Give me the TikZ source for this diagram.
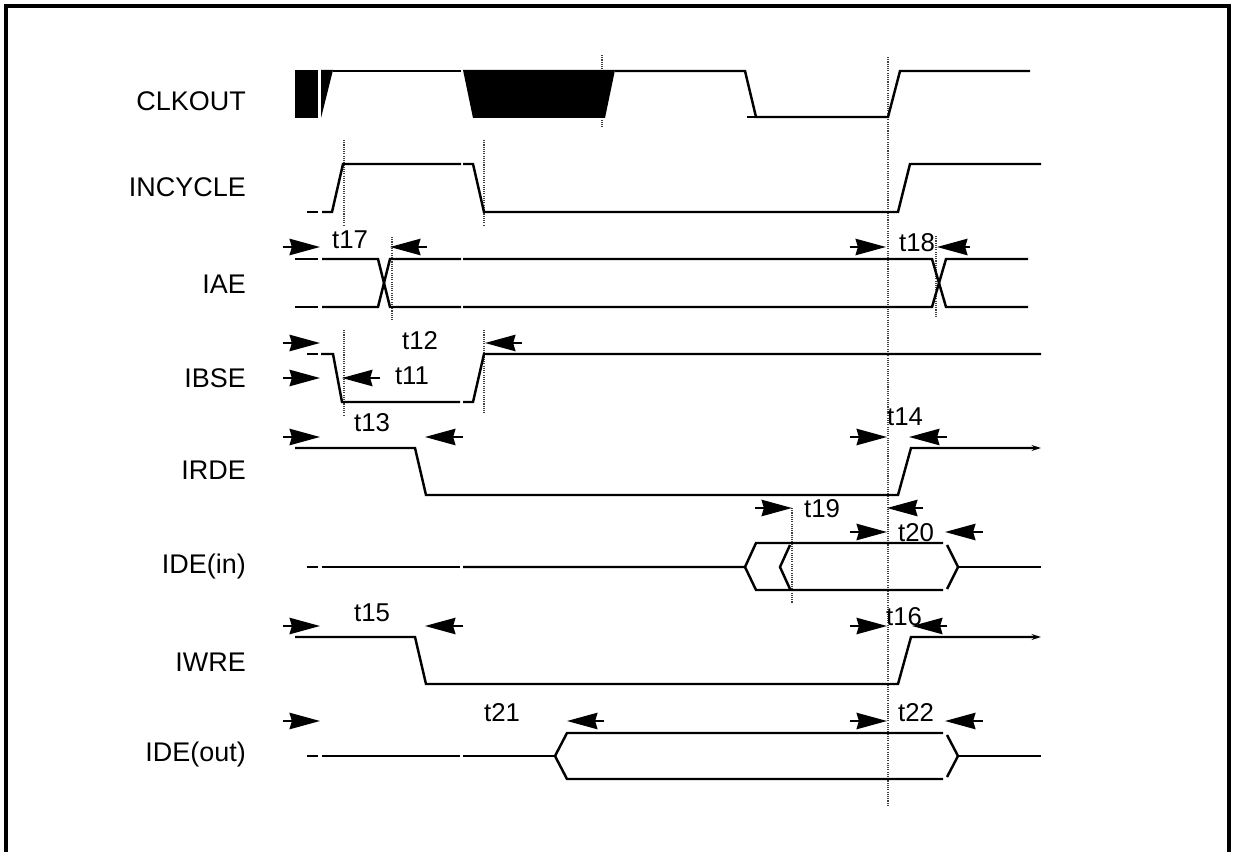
\documentclass[tikz,border=0pt]{standalone}
\usepackage{fontspec}
\setmainfont{Liberation Sans}
\usetikzlibrary{arrows.meta}
\begin{document}
\begin{tikzpicture}[x=0.03cm,y=-0.03cm,
  sig/.style={line width=2.1pt, line join=miter},
  sigend/.style={sig, -{Stealth[length=8pt,width=5pt]}},
  guide/.style={densely dotted, line width=0.9pt, black!75},
  dimr/.style={line width=1.7pt, -{Stealth[length=26pt,width=14pt,inset=2pt]}},
  signame/.style={anchor=east, inner sep=0pt, font=\fontsize{23}{27}\selectfont},
  tlab/.style={inner sep=0pt, font=\fontsize{22}{26}\selectfont},
  frameline/.style={line width=2.6pt}]
\useasboundingbox (0,0) rectangle (1234,852);
\draw[frameline] (6,852) -- (6,6) -- (1229,6) -- (1229,852);

% signal names
\node[signame] (nclk)  at (246,101) {CLKOUT};
\node[signame] (ninc)  at (246,187) {INCYCLE};
\node[signame] (niae)  at (246,284) {IAE};
\node[signame] (nibse) at (246,378) {IBSE};
\node[signame] (nirde) at (246,470) {IRDE};
\node[signame] (nidei) at (246,567) {IDE(in)};
\node[signame] (niwre) at (246,662) {IWRE};
\node[signame] (nideo) at (246,755) {IDE(out)};

% guide lines
\draw[guide] (602,55) -- (602,128);
\draw[guide] (888,57) -- (888,806);
\draw[guide] (344,140) -- (344,225);
\draw[guide] (484,140) -- (484,225);
\draw[guide] (392,237) -- (392,320);
\draw[guide] (936,236) -- (936,318);
\draw[guide] (344,330) -- (344,415);
\draw[guide] (484,330) -- (484,414);
\draw[guide] (792,508) -- (792,603);

% CLKOUT
\fill (295,70) rectangle (318,118);
\fill (321,70) -- (333,70) -- (321,118) -- cycle;
\draw[sig] (333,71) -- (461,71);
\fill (463,70) -- (615,70) -- (605,118) -- (473,118) -- cycle;
\draw[sig] (615,71) -- (745,71) -- (756,117) -- (888,117) -- (900,71) -- (1030,71);
\draw[sig] (747,117) -- (756,117);

% INCYCLE
\draw[sig] (307,212) -- (318,212);
\draw[sig] (322,212) -- (332,212) -- (343,164) -- (461,164);
\draw[sig] (463,164) -- (473,164) -- (484,212) -- (898,212) -- (910,164) -- (1041,164);

% IAE
\draw[sig] (295,259) -- (318,259);
\draw[sig] (295,307) -- (318,307);
\draw[sig] (322,259) -- (378,259) -- (390,307) -- (461,307);
\draw[sig] (322,307) -- (378,307) -- (390,259) -- (461,259);
\draw[sig] (463,259) -- (932,259) -- (946,307) -- (1028,307);
\draw[sig] (463,307) -- (932,307) -- (946,259) -- (1028,259);

% IBSE
\draw[sig] (307,354) -- (318,354);
\draw[sig] (321,354) -- (333,354) -- (342,402) -- (460,402);
\draw[sig] (463,402) -- (473,402) -- (484,354) -- (1041,354);

% IRDE
\draw[sigend] (295,448) -- (415,448) -- (426,495) -- (898,495) -- (911,448) -- (1041,448);

% IDE(in)
\draw[sig] (307,567) -- (318,567);
\draw[sig] (322,567) -- (460,567);
\draw[sig] (463,567) -- (745,567) -- (756,543) -- (943,543);
\draw[sig] (745,567) -- (756,590) -- (943,590);
\draw[sig] (790,545) -- (780,567) -- (790,589);
\draw[sig] (947,545) -- (958,567) -- (947,589);
\draw[sig] (958,567) -- (1041,567);

% IWRE
\draw[sigend] (295,637) -- (415,637) -- (426,684) -- (898,684) -- (911,637) -- (1041,637);

% IDE(out)
\draw[sig] (307,756) -- (318,756);
\draw[sig] (322,756) -- (460,756);
\draw[sig] (463,756) -- (555,756);
\draw[sig] (555,756) -- (567,733) -- (943,733);
\draw[sig] (555,756) -- (567,779) -- (943,779);
\draw[sig] (947,735) -- (958,756) -- (947,777);
\draw[sig] (958,756) -- (1041,756);

% timing labels
\node[tlab] (t17) at (350,240) {t17};
\node[tlab] (t18) at (917,243) {t18};
\node[tlab] (t12) at (420,341) {t12};
\node[tlab] (t11) at (412,376) {t11};
\node[tlab] (t13) at (372,423) {t13};
\node[tlab] (t14) at (905,417) {t14};
\node[tlab] (t19) at (822,509) {t19};
\node[tlab] (t20) at (916,533) {t20};
\node[tlab] (t15) at (372,613) {t15};
\node[tlab] (t16) at (904,617) {t16};
\node[tlab] (t21) at (502,713) {t21};
\node[tlab] (t22) at (916,713) {t22};

% arrow end points
\coordinate (a17a) at (283,247); \coordinate (a17b) at (320,247);
\coordinate (a17c) at (427,247); \coordinate (a17d) at (390,247);
\coordinate (a18a) at (850,247); \coordinate (a18b) at (886,247);
\coordinate (a18c) at (970,247); \coordinate (a18d) at (937,247);
\coordinate (a12a) at (283,343); \coordinate (a12b) at (320,343);
\coordinate (a12c) at (522,343); \coordinate (a12d) at (485,343);
\coordinate (a11a) at (283,378); \coordinate (a11b) at (320,378);
\coordinate (a11c) at (380,378); \coordinate (a11d) at (342,378);
\coordinate (a13a) at (283,437); \coordinate (a13b) at (320,437);
\coordinate (a13c) at (463,437); \coordinate (a13d) at (425,437);
\coordinate (a14a) at (850,437); \coordinate (a14b) at (887,437);
\coordinate (a14c) at (947,437); \coordinate (a14d) at (909,437);
\coordinate (a19a) at (755,508); \coordinate (a19b) at (792,508);
\coordinate (a19c) at (923,508); \coordinate (a19d) at (887,508);
\coordinate (a20a) at (850,532); \coordinate (a20b) at (887,532);
\coordinate (a20c) at (983,532); \coordinate (a20d) at (945,532);
\coordinate (a15a) at (283,626); \coordinate (a15b) at (320,626);
\coordinate (a15c) at (463,626); \coordinate (a15d) at (425,626);
\coordinate (a16a) at (850,626); \coordinate (a16b) at (887,626);
\coordinate (a16c) at (947,626); \coordinate (a16d) at (912,626);
\coordinate (a21a) at (283,721); \coordinate (a21b) at (320,721);
\coordinate (a21c) at (604,721); \coordinate (a21d) at (567,721);
\coordinate (a22a) at (850,721); \coordinate (a22b) at (887,721);
\coordinate (a22c) at (983,721); \coordinate (a22d) at (945,721);

\foreach \n in {17,18,12,11,13,14,19,20,15,16,21,22}{
  \draw[dimr] (a\n a) -- (a\n b);
  \draw[dimr] (a\n c) -- (a\n d);
}
\end{tikzpicture}
\end{document}
